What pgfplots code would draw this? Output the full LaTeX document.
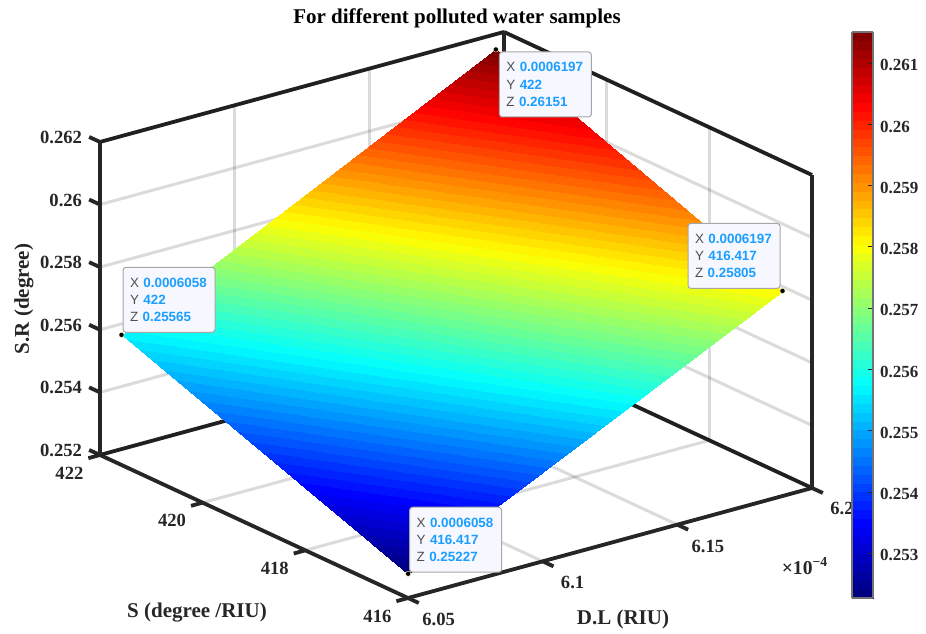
\documentclass[border=0pt]{standalone}
\usepackage{pgfplots}
\pgfplotsset{compat=1.18}
\usepackage{fontspec}
\setmainfont{Liberation Serif}
\newfontfamily\tipfont{Liberation Sans}
\usetikzlibrary{calc}
\definecolor{axdark}{HTML}{262626}
\definecolor{tipblue}{HTML}{1A9FFF}
\definecolor{tipgrey}{HTML}{505050}
\newcommand{\tip}[3]{\textcolor{tipgrey}{X} \textcolor{tipblue}{\textbf{#1}}\\
  \textcolor{tipgrey}{Y} \textcolor{tipblue}{\textbf{#2}}\\
  \textcolor{tipgrey}{Z} \textcolor{tipblue}{\textbf{#3}}}
\tikzset{tipbox/.style={draw=black!35,line width=0.5pt,fill=white!97!blue,rounded corners=1.5pt,
  font=\tipfont\fontsize{6.7pt}{8.65pt}\selectfont,
  text width=39pt,minimum width=46pt,minimum height=32.5pt,inner xsep=3.5pt,inner ysep=2pt,align=left},
  axl/.style={axdark,line width=1.9pt}}
\pgfplotsset{colormap={mjet}{rgb=(0,0,0.5) rgb=(0,0,1) rgb=(0,0.5,1) rgb=(0,1,1) rgb=(0.5,1,0.5) rgb=(1,1,0) rgb=(1,0.5,0) rgb=(1,0,0) rgb=(0.5,0,0)},
 colormap={mjet64}{samples of colormap=(64 of mjet)}}
\begin{document}
\begin{tikzpicture}
\begin{axis}[
  name=main,
  x={(1346.7pt,366.7pt)}, y={(-25.67pt,11.92pt)}, z={(0pt,15650pt)},
  xmin=6.05,xmax=6.2,ymin=416,ymax=422,zmin=0.252,zmax=0.262,
  xtick={6.05,6.1,6.15,6.2}, xticklabels={6.05,6.1,6.15,6.2},
  ytick={416,418,420,422}, yticklabels={416,418,420,422},
  ztick={0.252,0.254,0.256,0.258,0.26,0.262},
  zticklabels={0.252,0.254,0.256,0.258,0.26,0.262},
  scaled ticks=false,
  tick align=outside, major tick length=6pt,
  xtick pos=left, ytick pos=left, ztick pos=left,
  every tick/.style={draw=none},
  axis line style={axdark,line width=1.9pt},
  grid=major, major grid style={black,opacity=0.14,line width=1.5pt},
  tick label style={font=\fontsize{9.3pt}{10pt}\selectfont\bfseries,text=axdark},
  xticklabel style={xshift=4.5pt},
  yticklabel style={xshift=-3pt,yshift=1pt},
  zticklabel style={yshift=-1.5pt},
  colormap name=mjet64, colormap access=piecewise constant,
  point meta min=0.25227, point meta max=0.26151,
  clip=false,
]
% box edges behind the surface
\draw[axl] (axis cs:6.2,422,0.252) -- (axis cs:6.2,422,0.262);
\draw[axl] (axis cs:6.05,422,0.252) -- (axis cs:6.05,422,0.262);
\draw[axl] (axis cs:6.2,416,0.252) -- (axis cs:6.2,416,0.262);
\addplot3[surf,shader=interp,mesh/rows=2,mesh/cols=2,point meta=z] table[x=x,y=y,z=z]{
x y z
6.058 416.417 0.25227
6.197 416.417 0.25805
6.058 422 0.25565
6.197 422 0.26151
};
\addplot3[only marks,mark=*,mark size=1.3pt,mark options={fill=black,draw=yellow!30!white,line width=0.2pt}] table[x=x,y=y,z=z]{
x y z
6.058 416.417 0.25227
6.197 416.417 0.25805
6.058 422 0.25565
6.197 422 0.26151
};
% ticks, in the directions of the other axes
\draw[axl] (axis cs:6.05,416,0.252) -- ++(5.4pt,-2.5pt);
\draw[axl] (axis cs:6.1,416,0.252) -- ++(5.4pt,-2.5pt);
\draw[axl] (axis cs:6.15,416,0.252) -- ++(5.4pt,-2.5pt);
\draw[axl] (axis cs:6.2,416,0.252) -- ++(5.4pt,-2.5pt);
\draw[axl] (axis cs:6.05,416,0.252) -- ++(-5.8pt,-1.6pt);
\draw[axl] (axis cs:6.05,418,0.252) -- ++(-5.8pt,-1.6pt);
\draw[axl] (axis cs:6.05,420,0.252) -- ++(-5.8pt,-1.6pt);
\draw[axl] (axis cs:6.05,422,0.252) -- ++(-5.8pt,-1.6pt);
\draw[axl] (axis cs:6.05,422,0.252) -- ++(-5.4pt,2.5pt);
\draw[axl] (axis cs:6.05,422,0.254) -- ++(-5.4pt,2.5pt);
\draw[axl] (axis cs:6.05,422,0.256) -- ++(-5.4pt,2.5pt);
\draw[axl] (axis cs:6.05,422,0.258) -- ++(-5.4pt,2.5pt);
\draw[axl] (axis cs:6.05,422,0.26) -- ++(-5.4pt,2.5pt);
\draw[axl] (axis cs:6.05,422,0.262) -- ++(-5.4pt,2.5pt);
\coordinate (F) at (axis cs:6.05,416,0.252);
\coordinate (PA) at (axis cs:6.058,416.417,0.25227);
\coordinate (PB) at (axis cs:6.197,416.417,0.25805);
\coordinate (PC) at (axis cs:6.058,422,0.25565);
\coordinate (PD) at (axis cs:6.197,422,0.26151);
\end{axis}
\node[tipbox,anchor=south west] at ($(PA)+(0.5pt,0.5pt)$) {\tip{0.0006058}{416.417}{0.25227}};
\node[tipbox,anchor=south east] at ($(PB)+(-1pt,1pt)$) {\tip{0.0006197}{416.417}{0.25805}};
\node[tipbox,anchor=south west] at ($(PC)+(0.5pt,1pt)$) {\tip{0.0006058}{422}{0.25565}};
\node[tipbox,anchor=north west] at ($(PD)+(1.5pt,-1pt)$) {\tip{0.0006197}{422}{0.26151}};
\begin{scope}[shift={($(F)+(-204pt,299pt)$)},x=0.5pt,y=-0.5pt]
\coordinate (CB) at (852,598);
\coordinate (TL) at (0,0);
\coordinate (BR) at (926,633);
\node[font=\fontsize{10.5pt}{12pt}\selectfont\bfseries,text=black] at (457,18) {For different polluted water samples};
\node[font=\fontsize{10.5pt}{12pt}\selectfont\bfseries,text=axdark] at (623,619) {D.L (RIU)};
\node[font=\fontsize{10.5pt}{12pt}\selectfont\bfseries,text=axdark] at (197,613) {S (degree /RIU)};
\node[font=\fontsize{10.5pt}{12pt}\selectfont\bfseries,text=axdark,rotate=90] at (24,299) {S.R (degree)};
\node[font=\fontsize{9.8pt}{10pt}\selectfont\bfseries,text=axdark] at (805,566) {×10\textsuperscript{−4}};
\end{scope}
\begin{axis}[
  at={(CB)},anchor=south west,scale only axis,
  width=10.5pt,height=283pt,view={0}{90},
  xmin=0,xmax=1,ymin=0.25227,ymax=0.26151,
  xtick=\empty,
  ytick={0.253,0.254,0.255,0.256,0.257,0.258,0.259,0.26,0.261},
  yticklabels={0.253,0.254,0.255,0.256,0.257,0.258,0.259,0.26,0.261},
  scaled y ticks=false,
  ytick pos=right, yticklabel pos=right, tick align=inside, major tick length=2.5pt,
  every tick/.style={axdark,line width=0.5pt},
  axis line style={black!55,line width=0.6pt},
  tick label style={font=\fontsize{8.5pt}{10pt}\selectfont\bfseries,text=axdark},
  yticklabel style={yshift=-1pt},
  colormap name=mjet64, colormap access=piecewise constant,
  point meta min=0.25227, point meta max=0.26151,
  axis on top,
]
\addplot3[surf,shader=interp,mesh/rows=2,mesh/cols=2,point meta=y] table[x=x,y=y,z=z]{
x y z
0 0.25227 0
1 0.25227 0
0 0.26151 0
1 0.26151 0
};
\end{axis}
\pgfresetboundingbox
\path[use as bounding box] (TL) rectangle (BR);
\end{tikzpicture}
\end{document}
